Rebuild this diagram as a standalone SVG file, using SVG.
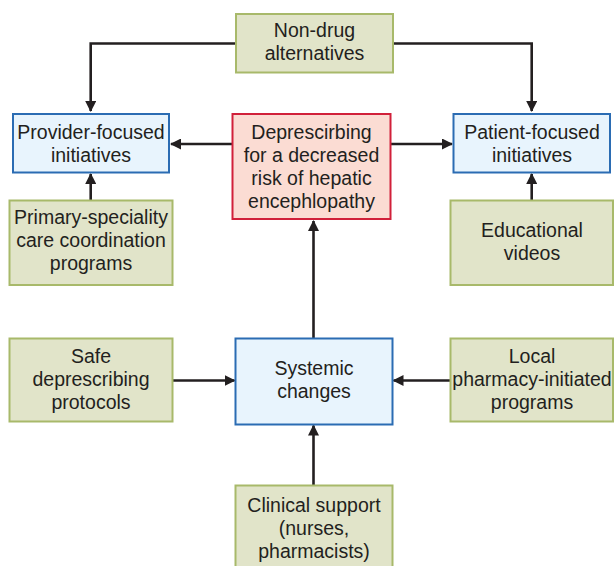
<svg xmlns="http://www.w3.org/2000/svg" width="614" height="566" viewBox="0 0 614 566">
<style>
.g{fill:#e1e4c9;stroke:#a8b96a;stroke-width:2}
.b{fill:#e8f4fd;stroke:#2b6cb3;stroke-width:2}
.r{fill:#fbdcd3;stroke:#d1203a;stroke-width:2}
text{font-family:"Liberation Sans",Arial,sans-serif;font-size:19.5px;fill:#231f20;text-anchor:middle}
.c{fill:none;stroke:#231f20;stroke-width:2.6}
</style>
<defs>
<marker id="ah" markerWidth="11" markerHeight="11" viewBox="0 0 11 11" refX="10" refY="5.5" orient="auto" markerUnits="userSpaceOnUse">
<path d="M0,0 L11,5.5 L0,11 Z" fill="#231f20"/>
</marker>
</defs>
<g id="connectors">
<path class="c" d="M236,43.5 H90.7 V111" marker-end="url(#ah)"/>
<path class="c" d="M393,43.5 H531.7 V111" marker-end="url(#ah)"/>
<path class="c" d="M232,144 H171" marker-end="url(#ah)"/>
<path class="c" d="M391,144 H452" marker-end="url(#ah)"/>
<path class="c" d="M90.7,200 V174" marker-end="url(#ah)"/>
<path class="c" d="M531.7,200 V174" marker-end="url(#ah)"/>
<path class="c" d="M313.5,338 V221" marker-end="url(#ah)"/>
<path class="c" d="M172,380.5 H234.5" marker-end="url(#ah)"/>
<path class="c" d="M450,380.5 H393.5" marker-end="url(#ah)"/>
<path class="c" d="M313.5,485 V425.5" marker-end="url(#ah)"/>
</g>
<g id="nondrug"><rect class="g" x="236" y="14" width="157" height="58.5"/><text x="314.5" y="37">Non-drug</text><text x="314.5" y="60">alternatives</text></g>
<g id="provider"><rect class="b" x="13" y="114" width="156" height="58.5"/><text x="91" y="139">Provider-focused</text><text x="91" y="162">initiatives</text></g>
<g id="deprescribing"><rect class="r" x="232.5" y="114" width="158" height="105"/><text x="311.5" y="138.5">Deprescirbing</text><text x="311.5" y="161.7">for a decreased</text><text x="311.5" y="184.9">risk of hepatic</text><text x="311.5" y="207.9">encephlopathy</text></g>
<g id="patient"><rect class="b" x="453.5" y="114" width="156.5" height="58.5"/><text x="532" y="139">Patient-focused</text><text x="532" y="162">initiatives</text></g>
<g id="primary"><rect class="g" x="9.5" y="200.5" width="163" height="84.5"/><text x="91" y="224">Primary-speciality</text><text x="91" y="247">care coordination</text><text x="91" y="269.5">programs</text></g>
<g id="educational"><rect class="g" x="450.5" y="200.5" width="162.5" height="84.5"/><text x="532" y="237">Educational</text><text x="532" y="260">videos</text></g>
<g id="safe"><rect class="g" x="9.5" y="338.5" width="163" height="83"/><text x="91" y="363">Safe</text><text x="91" y="386">deprescribing</text><text x="91" y="408.5">protocols</text></g>
<g id="systemic"><rect class="b" x="235.5" y="338.5" width="157" height="86"/><text x="314" y="375">Systemic</text><text x="314" y="398">changes</text></g>
<g id="local"><rect class="g" x="450.5" y="338.5" width="162.5" height="83"/><text x="532" y="363">Local</text><text x="532" y="386">pharmacy-initiated</text><text x="532" y="408.5">programs</text></g>
<g id="clinical"><rect class="g" x="235.5" y="485.5" width="157" height="84"/><text x="314" y="512">Clinical support</text><text x="314" y="535">(nurses,</text><text x="314" y="558">pharmacists)</text></g>
</svg>
